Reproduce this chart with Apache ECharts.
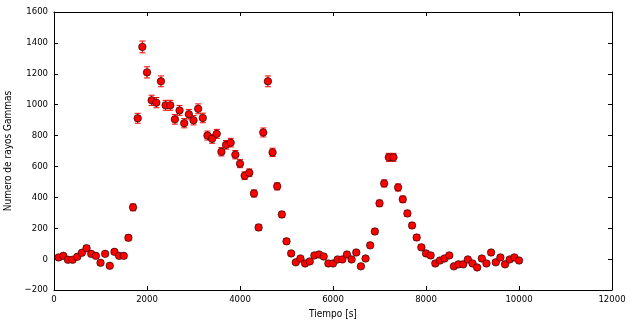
<!DOCTYPE html>
<html>
<head>
<meta charset="utf-8">
<script src="https://cdn.jsdelivr.net/npm/echarts@6/dist/echarts.min.js"></script>
<style>
html,body{margin:0;padding:0;background:#fff;}
#chart{width:634px;height:327px;}
</style>
</head>
<body>
<div id="chart"></div>
<script>
// Time (s) of each bin
var times = [100,200,300,400,500,600,700,800,900,1000,
  1100,1200,1300,1400,1500,1600,1700,1800,1900,2000,
  2100,2200,2300,2400,2500,2600,2700,2800,2900,3000,
  3100,3200,3300,3400,3500,3600,3700,3800,3900,4000,
  4100,4200,4300,4400,4500,4600,4700,4800,4900,5000,
  5100,5200,5300,5400,5500,5600,5700,5800,5900,6000,
  6100,6200,6300,6400,6500,6600,6700,6800,6900,7000,
  7100,7200,7300,7400,7500,7600,7700,7800,7900,8000,
  8100,8200,8300,8400,8500,8600,8700,8800,8900,9000,
  9100,9200,9300,9400,9500,9600,9700,9800,9900,10000];
// Gamma-ray counts
var counts = [11,21,-4,-4,15,41,71,34,21,-24,
  34,-43,47,21,21,138,335,912,1374,1209,
  1028,1013,1151,996,996,905,963,880,938,899,
  973,914,800,779,811,695,740,754,676,618,
  540,559,425,205,820,1151,691,471,289,115,
  37,-21,4,-28,-15,24,30,17,-28,-28,
  -2,-2,30,-2,43,-47,4,89,179,361,
  490,659,659,464,387,296,218,140,76,37,
  24,-28,-9,4,24,-47,-34,-34,-2,-28,
  -54,4,-28,43,-21,11,-34,-2,11,-9];
// Error on each count (estimated from the bars)
var errors = [14,14,14,14,14,15,16,15,14,14,
  15,14,15,14,14,18,22,32,38,36,
  33,33,35,32,32,31,32,30,31,30,
  32,31,29,29,29,27,28,28,27,26,
  25,25,23,20,29,35,27,23,20,17,
  15,14,14,14,14,14,14,14,14,14,
  14,14,14,14,14,14,14,16,18,21,
  23,26,26,23,21,20,18,17,16,15,
  15,14,14,14,14,14,14,14,14,14,
  14,14,14,14,14,14,14,14,14,14];
var xTicks = [0,2000,4000,6000,8000,10000,12000];
var yTicks = [-200,0,200,400,600,800,1000,1200,1400,1600];

var pts = times.map(function(t,i){return [t,counts[i]];});
var errData = times.map(function(t,i){return [t,counts[i]-errors[i],counts[i]+errors[i]];});

var FONT = 'DejaVu Sans Condensed';
var fmt = function(v){ return v < 0 ? '\u2212' + String(-v) : String(v); };
var chart = echarts.init(document.getElementById('chart'), null, {renderer:'canvas'});
function axisCommon(){
  return {
    axisLine:{show:true,onZero:false,lineStyle:{color:'#000',width:1}},
    axisTick:{show:true,inside:true,length:4,lineStyle:{color:'#000',width:1}},
    splitLine:{show:false}
  };
}
chart.setOption({
  animation:false,
  backgroundColor:'#fff',
  grid:{left:54,right:22,top:12,bottom:37,containLabel:false,outerBoundsMode:'none'},
  xAxis:[
    Object.assign(axisCommon(),{type:'value',min:xTicks[0],max:xTicks[xTicks.length-1],interval:2000,position:'bottom',
      name:'Tiempo [s]',nameLocation:'middle',nameGap:19,
      nameTextStyle:{fontFamily:FONT,fontSize:10,color:'#000'},
      axisLabel:{fontFamily:FONT,fontSize:9.5,color:'#000',margin:5,formatter:fmt}}),
    Object.assign(axisCommon(),{type:'value',min:xTicks[0],max:xTicks[xTicks.length-1],interval:2000,position:'top',
      axisLabel:{show:false}})
  ],
  yAxis:[
    Object.assign(axisCommon(),{type:'value',min:yTicks[0],max:yTicks[yTicks.length-1],interval:200,position:'left',
      name:'Numero de rayos Gammas',nameLocation:'middle',nameGap:35,
      nameTextStyle:{fontFamily:FONT,fontSize:10,color:'#000'},
      axisLabel:{fontFamily:FONT,fontSize:9.5,color:'#000',margin:6,formatter:fmt}}),
    Object.assign(axisCommon(),{type:'value',min:yTicks[0],max:yTicks[yTicks.length-1],interval:200,position:'right',
      axisLabel:{show:false}})
  ],
  series:[
    {
      type:'custom',
      xAxisIndex:0,yAxisIndex:0,
      data:errData,
      encode:{x:0,y:[1,2]},
      z:2,
      renderItem:function(params,api){
        var x=api.value(0);
        var lo=api.coord([x,api.value(1)]);
        var hi=api.coord([x,api.value(2)]);
        var cw=3;
        var st={stroke:'#ff0000',lineWidth:1};
        return {type:'group',children:[
          {type:'line',shape:{x1:lo[0],y1:lo[1],x2:hi[0],y2:hi[1]},style:st},
          {type:'line',shape:{x1:lo[0]-cw,y1:lo[1],x2:lo[0]+cw,y2:lo[1]},style:st},
          {type:'line',shape:{x1:hi[0]-cw,y1:hi[1],x2:hi[0]+cw,y2:hi[1]},style:st}
        ]};
      }
    },
    {
      type:'scatter',
      xAxisIndex:0,yAxisIndex:0,
      data:pts,
      symbol:'circle',
      symbolSize:7.5,
      z:3,
      itemStyle:{color:'#ff0000',borderColor:'#000',borderWidth:0.6,opacity:1}
    }
  ]
});
</script>
</body>
</html>
